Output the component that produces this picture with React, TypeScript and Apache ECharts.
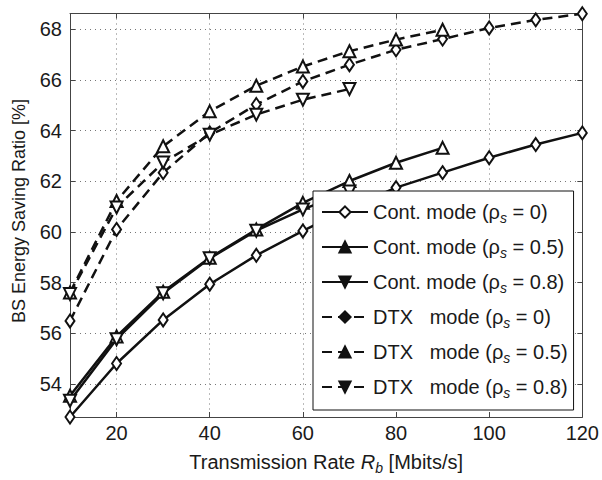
import React, { useEffect, useRef } from "react";
import * as echarts from "echarts";

const rates = [10, 20, 30, 40, 50, 60, 70, 80, 90, 100, 110, 120];
const contRho0 = [52.7, 54.81, 56.53, 57.94, 59.08, 60.04, 60.95, 61.75, 62.34, 62.93, 63.45, 63.91];
const contRho05 = [53.54, 55.88, 57.64, 58.98, 60.1, 61.15, 62.01, 62.73, 63.32];
const contRho08 = [53.34, 55.77, 57.58, 58.96, 60.05, 60.89, 61.6];
const dtxRho0 = [56.49, 60.1, 62.34, 63.91, 65.03, 65.94, 66.6, 67.19, 67.61, 68.05, 68.37, 68.61];
const dtxRho05 = [57.61, 61.22, 63.38, 64.76, 65.77, 66.53, 67.13, 67.59, 67.98];
const dtxRho08 = [57.55, 60.97, 62.74, 63.84, 64.63, 65.22, 65.64];

const seriesNames = [
  "Cont. mode (ρs = 0)",
  "Cont. mode (ρs = 0.5)",
  "Cont. mode (ρs = 0.8)",
  "DTX   mode (ρs = 0)",
  "DTX   mode (ρs = 0.5)",
  "DTX   mode (ρs = 0.8)",
];
const legendLabels = [
  "Cont. mode (ρ{s|s} = 0)",
  "Cont. mode (ρ{s|s} = 0.5)",
  "Cont. mode (ρ{s|s} = 0.8)",
  "DTX   mode (ρ{s|s} = 0)",
  "DTX   mode (ρ{s|s} = 0.5)",
  "DTX   mode (ρ{s|s} = 0.8)",
];
const seriesValues = [contRho0, contRho05, contRho08, dtxRho0, dtxRho05, dtxRho08];
const xMin = 10;
const xMax = 120;
const yMin = 52.7;
const yMax = 68.62;
const yTitle = "BS Energy Saving Ratio [%]";
const xTitle = "Transmission Rate {i|R}{s|b} [Mbits/s]";

const FONT = "Liberation Sans, Arial, Helvetica, sans-serif";
const INK = "#111";
const TXT = "#1a1a1a";

export default function App() {
  const ref = useRef<HTMLDivElement>(null);
  useEffect(() => {
    if (!ref.current) return;
    const chart = echarts.init(ref.current, undefined, { renderer: "svg" });
    const markers = [
      { symbol: "diamond", size: [9, 13], rotate: 0 },
      { symbol: "triangle", size: 12, rotate: 0 },
      { symbol: "triangle", size: 12, rotate: 180 },
    ];
    const series = seriesValues.map((vals, i) => {
      const m = markers[i % 3];
      const dashed = i >= 3;
      return {
        type: "line",
        name: seriesNames[i],
        data: vals.map((v, j) => [rates[j], v]),
        symbol: m.symbol,
        symbolSize: m.size,
        symbolRotate: m.rotate,
        showAllSymbol: true,
        lineStyle: { color: INK, width: 2.5, type: dashed ? [10, 6] : "solid" },
        itemStyle: { color: "#fff", borderColor: INK, borderWidth: 2 },
        emphasis: { disabled: true },
        z: 3,
      };
    });
    const labelStyle = { fontFamily: FONT, fontSize: 20, color: TXT };
    const subStyle = {
      fontFamily: FONT,
      fontSize: 14,
      fontStyle: "italic",
      lineHeight: 14,
      verticalAlign: "bottom",
      color: TXT,
    };
    const option: any = {
      animation: false,
      backgroundColor: "#fff",
      textStyle: { fontFamily: FONT },
      grid: { left: 70, right: 19, top: 13.5, bottom: 62.3 },
      graphic: [
        {
          type: "text",
          x: 19,
          y: 211,
          rotation: Math.PI / 2,
          style: {
            text: yTitle,
            fontFamily: FONT,
            fontSize: 18,
            fill: TXT,
            align: "center",
            verticalAlign: "middle",
          },
        },
      ],
      legend: {
        orient: "vertical",
        left: 313,
        top: 191,
        padding: [8, 6, 10, 8],
        itemWidth: 46,
        itemHeight: 14,
        itemGap: 9,
        selectedMode: false,
        backgroundColor: "#fff",
        borderColor: INK,
        borderWidth: 1,
        data: seriesNames.map((n, i) => ({
          name: n,
          itemStyle: {
            color: i === 0 ? "#fff" : INK,
            borderColor: INK,
            borderWidth: 2,
          },
        })),
        formatter: (name: string) => legendLabels[seriesNames.indexOf(name)],
        textStyle: {
          fontFamily: FONT,
          fontSize: 20,
          lineHeight: 26,
          color: TXT,
          rich: { s: subStyle },
        },
      },
      xAxis: [
        {
          type: "value",
          min: xMin,
          max: xMax,
          splitNumber: 5,
          name: xTitle,
          nameLocation: "middle",
          nameGap: 32,
          nameTextStyle: {
            ...labelStyle,
            lineHeight: 26,
            rich: {
              i: { fontFamily: FONT, fontSize: 20, fontStyle: "italic", lineHeight: 26, color: TXT },
              s: subStyle,
            },
          },
          axisLine: { show: true, lineStyle: { color: "#444", width: 1 } },
          axisTick: { show: true, inside: true, length: 5, lineStyle: { color: "#444" } },
          axisLabel: { ...labelStyle, margin: 6, showMinLabel: false, showMaxLabel: true },
          splitLine: { show: true, lineStyle: { color: "#777", width: 1, type: [1, 4] } },
        },
        {
          type: "value",
          position: "top",
          min: xMin,
          max: xMax,
          splitNumber: 5,
          axisLine: { show: true, lineStyle: { color: "#444", width: 1 } },
          axisTick: { show: true, inside: true, length: 5, lineStyle: { color: "#444" } },
          axisLabel: { show: false },
          splitLine: { show: false },
        },
      ],
      yAxis: [
        {
          type: "value",
          min: yMin,
          max: yMax,
          splitNumber: 8,
          axisLine: { show: true, lineStyle: { color: "#444", width: 1 } },
          axisTick: { show: true, inside: true, length: 5, lineStyle: { color: "#444" } },
          axisLabel: { ...labelStyle, margin: 8, showMinLabel: false, showMaxLabel: false },
          splitLine: { show: true, lineStyle: { color: "#777", width: 1, type: [1, 4] } },
        },
        {
          type: "value",
          position: "right",
          min: yMin,
          max: yMax,
          splitNumber: 8,
          axisLine: { show: true, lineStyle: { color: "#444", width: 1 } },
          axisTick: { show: true, inside: true, length: 5, lineStyle: { color: "#444" } },
          axisLabel: { show: false },
          splitLine: { show: false },
        },
      ],
      series,
    };
    chart.setOption(option);
    return () => chart.dispose();
  }, []);
  return (
    <div
      ref={ref}
      style={{ position: "fixed", left: 0, top: 0, width: 602, height: 480, background: "#fff" }}
    />
  );
}
